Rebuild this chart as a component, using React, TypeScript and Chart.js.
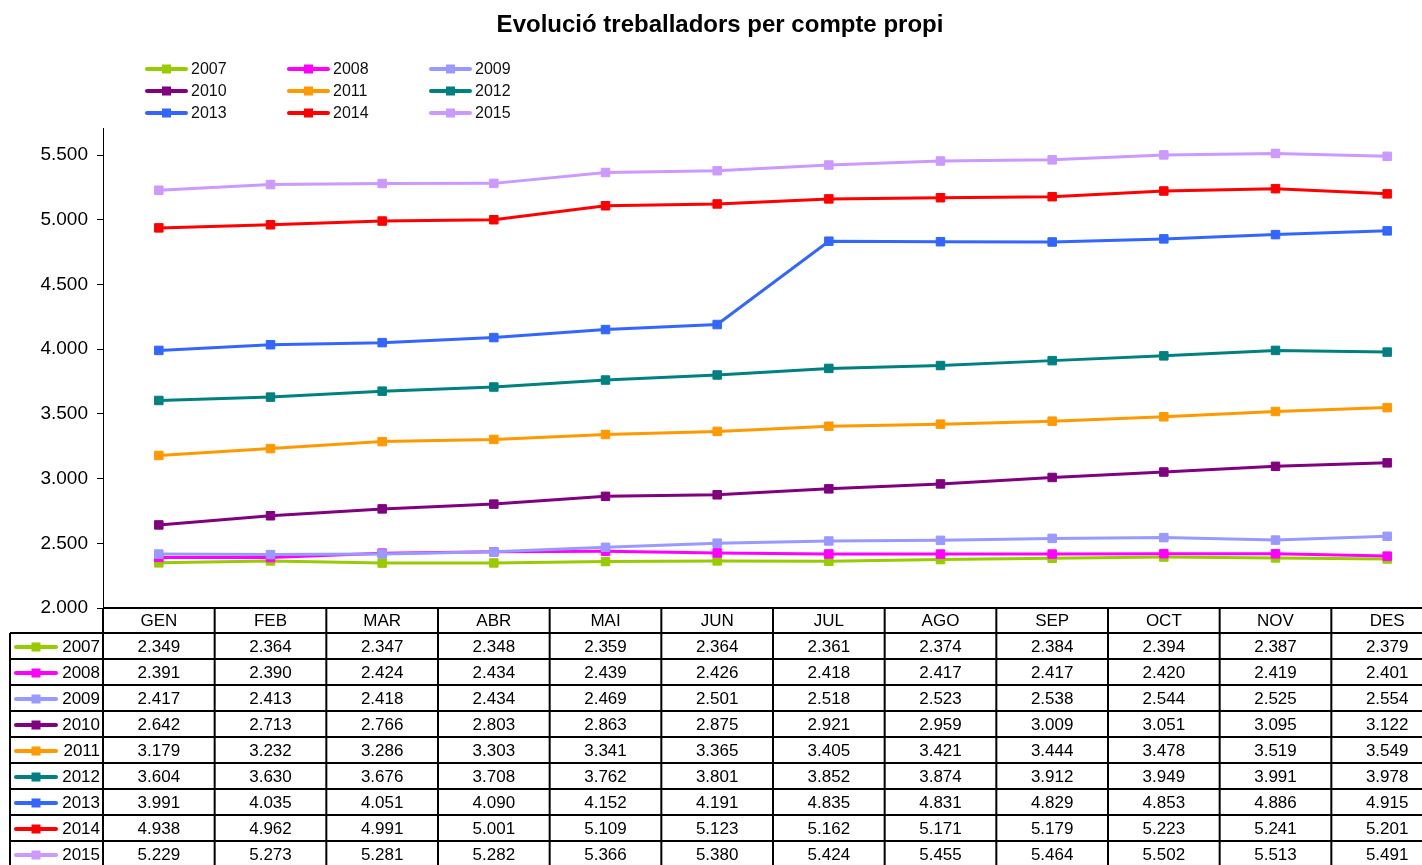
import React, { useEffect, useRef } from "react";
import { Chart, registerables } from "chart.js";

Chart.register(...registerables);

const TITLE = "Evolució treballadors per compte propi";
const MONTHS = ["GEN", "FEB", "MAR", "ABR", "MAI", "JUN", "JUL", "AGO", "SEP", "OCT", "NOV", "DES"];
const YEARS = ["2007", "2008", "2009", "2010", "2011", "2012", "2013", "2014", "2015"];
const COLORS = ["#99CC00", "#FF00FF", "#9999FF", "#800080", "#FF9900", "#008080", "#3366FF", "#FF0000", "#CC99FF"];

const V2007 = [2349, 2364, 2347, 2348, 2359, 2364, 2361, 2374, 2384, 2394, 2387, 2379];
const V2008 = [2391, 2390, 2424, 2434, 2439, 2426, 2418, 2417, 2417, 2420, 2419, 2401];
const V2009 = [2417, 2413, 2418, 2434, 2469, 2501, 2518, 2523, 2538, 2544, 2525, 2554];
const V2010 = [2642, 2713, 2766, 2803, 2863, 2875, 2921, 2959, 3009, 3051, 3095, 3122];
const V2011 = [3179, 3232, 3286, 3303, 3341, 3365, 3405, 3421, 3444, 3478, 3519, 3549];
const V2012 = [3604, 3630, 3676, 3708, 3762, 3801, 3852, 3874, 3912, 3949, 3991, 3978];
const V2013 = [3991, 4035, 4051, 4090, 4152, 4191, 4835, 4831, 4829, 4853, 4886, 4915];
const V2014 = [4938, 4962, 4991, 5001, 5109, 5123, 5162, 5171, 5179, 5223, 5241, 5201];
const V2015 = [5229, 5273, 5281, 5282, 5366, 5380, 5424, 5455, 5464, 5502, 5513, 5491];
const SERIES = [V2007, V2008, V2009, V2010, V2011, V2012, V2013, V2014, V2015];

const Y_TICKS = [2000, 2500, 3000, 3500, 4000, 4500, 5000, 5500];
const Y_MIN = 2000;
const Y_MAX = 5710;

const FONT = "'Liberation Sans', Arial, sans-serif";
const fmt = (n: number) => String(n).replace(/\B(?=(\d{3})+(?!\d))/g, ".");

const W = 1450;
const H = 870;

function drawKey(ctx: CanvasRenderingContext2D, x: number, y: number, len: number, color: string) {
  ctx.save();
  ctx.strokeStyle = color;
  ctx.lineWidth = 4;
  ctx.lineCap = "round";
  ctx.beginPath();
  ctx.moveTo(x + 2, y);
  ctx.lineTo(x + len - 2, y);
  ctx.stroke();
  ctx.fillStyle = color;
  ctx.fillRect(x + len / 2 - 4.5, y - 4.5, 9, 9);
  ctx.restore();
}

const extrasPlugin = {
  id: "extras",
  afterDraw(chart: any) {
    const ctx: CanvasRenderingContext2D = chart.ctx;
    const area = chart.chartArea;
    const xs = chart.scales.x;
    ctx.save();
    // title
    ctx.fillStyle = "#000";
    ctx.font = `bold 24px ${FONT}`;
    ctx.textAlign = "center";
    ctx.textBaseline = "middle";
    ctx.fillText(TITLE, 720, 25);

    // top legend
    const legX = [145, 287, 429];
    const legY = [69, 91, 113];
    ctx.font = `16px ${FONT}`;
    ctx.textAlign = "left";
    YEARS.forEach((yr, i) => {
      const cx = legX[i % 3];
      const cy = legY[Math.floor(i / 3)];
      drawKey(ctx, cx, cy, 43, COLORS[i]);
      ctx.fillStyle = "#111";
      ctx.fillText(yr, cx + 46, cy + 1);
    });

    // data table
    const colW = xs.width / MONTHS.length;
    const left = area.left;
    const right = area.right;
    const top = area.bottom;
    const headH = 25;
    const rowH = 26;
    const tableLeft = 10;
    const bottom = top + headH + rowH * YEARS.length;
    ctx.strokeStyle = "#000";
    ctx.lineWidth = 2;
    ctx.beginPath();
    ctx.moveTo(left, top);
    ctx.lineTo(right, top);
    for (let k = 0; k <= YEARS.length; k++) {
      const y = top + headH + k * rowH;
      ctx.moveTo(tableLeft, y);
      ctx.lineTo(right, y);
    }
    ctx.moveTo(tableLeft, top + headH);
    ctx.lineTo(tableLeft, bottom);
    for (let i = 0; i <= MONTHS.length; i++) {
      const x = left + i * colW;
      ctx.moveTo(x, top);
      ctx.lineTo(x, bottom);
    }
    ctx.stroke();

    ctx.fillStyle = "#000";
    ctx.font = `17px ${FONT}`;
    ctx.textAlign = "center";
    MONTHS.forEach((m, i) => {
      ctx.fillText(m, xs.getPixelForValue(i), top + headH / 2 + 1);
    });
    YEARS.forEach((yr, k) => {
      const cy = top + headH + k * rowH + rowH / 2 + 1;
      drawKey(ctx, 14, cy, 44, COLORS[k]);
      ctx.fillStyle = "#000";
      ctx.textAlign = "right";
      ctx.fillText(yr, 100, cy);
      ctx.textAlign = "center";
      SERIES[k].forEach((v, i) => {
        ctx.fillText(fmt(v), xs.getPixelForValue(i), cy);
      });
    });
    ctx.restore();
  },
};

export default function App() {
  const ref = useRef<HTMLCanvasElement | null>(null);
  useEffect(() => {
    if (!ref.current) return;
    const chart = new Chart(ref.current, {
      type: "line",
      data: {
        labels: MONTHS,
        datasets: YEARS.map((yr, i) => ({
          label: yr,
          data: SERIES[i],
          borderColor: COLORS[i],
          backgroundColor: COLORS[i],
          borderWidth: 3,
          pointStyle: "rect",
          pointRadius: 6,
          pointBorderWidth: 1,
          tension: 0,
          order: YEARS.length - i,
        })),
      },
      options: {
        responsive: false,
        animation: false,
        layout: { padding: { left: 0, top: 128, right: W - 1447, bottom: H - 608 } },
        plugins: { legend: { display: false }, tooltip: { enabled: false }, title: { display: false } },
        scales: {
          x: { type: "category", offset: true, display: false },
          y: {
            type: "linear",
            min: Y_MIN,
            max: Y_MAX,
            afterFit: (s: any) => {
              s.width = 103;
            },
            afterBuildTicks: (s: any) => {
              s.ticks = Y_TICKS.map((v) => ({ value: v }));
            },
            ticks: {
              autoSkip: false,
              color: "#000",
              padding: 9,
              font: { family: FONT, size: 19 },
              callback: (v: any) => fmt(Number(v)),
            },
            grid: { drawOnChartArea: false, drawTicks: true, tickLength: 6, color: "#000" },
            border: { display: true, color: "#000", width: 1 },
          },
        },
      },
      plugins: [extrasPlugin],
    } as any);
    return () => chart.destroy();
  }, []);
  return (
    <div style={{ position: "fixed", left: 0, top: 0, width: 1422, height: 865, overflow: "hidden", background: "#fff" }}>
      <canvas ref={ref} width={W} height={H} style={{ width: W, height: H, display: "block" }} />
    </div>
  );
}
